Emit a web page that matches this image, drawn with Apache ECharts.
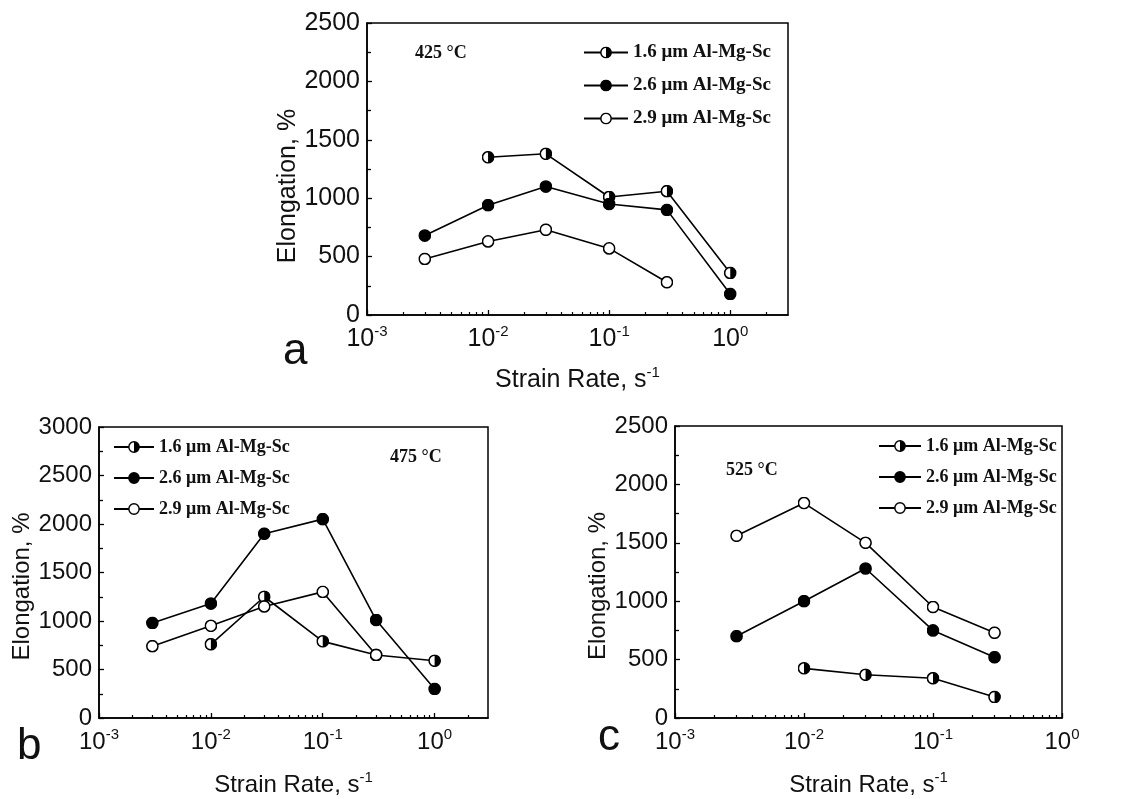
<!DOCTYPE html>
<html>
<head>
<meta charset="utf-8">
<title>Elongation vs strain rate</title>
<script src="https://cdn.jsdelivr.net/npm/echarts@6/dist/echarts.min.js"></script>
<style>
  html, body { margin: 0; background: #fff; }
  #chart { width: 1122px; height: 799px; }
</style>
</head>
<body>
<div id="chart"></div>
<script>
/* eslint-disable */

// ---- data ----
const seriesNames = ['1.6 μm Al-Mg-Sc', '2.6 μm Al-Mg-Sc', '2.9 μm Al-Mg-Sc'];
const temps = ['425 °C', '475 °C', '525 °C'];
const panelLetters = ['a', 'b', 'c'];

// panel a, 425 C
const a16 = [[0.01, 1350], [0.03, 1380], [0.1, 1010], [0.3, 1060], [1, 360]];
const a26 = [[0.003, 680], [0.01, 940], [0.03, 1100], [0.1, 950], [0.3, 900], [1, 180]];
const a29 = [[0.003, 480], [0.01, 630], [0.03, 730], [0.1, 570], [0.3, 280]];

// panel b, 475 C
const b16 = [[0.01, 760], [0.03, 1250], [0.1, 790], [0.3, 650], [1, 590]];
const b26 = [[0.003, 980], [0.01, 1180], [0.03, 1900], [0.1, 2050], [0.3, 1010], [1, 300]];
const b29 = [[0.003, 740], [0.01, 950], [0.03, 1150], [0.1, 1300], [0.3, 650]];

// panel c, 525 C
const c16 = [[0.01, 425], [0.03, 370], [0.1, 340], [0.3, 180]];
const c26 = [[0.003, 700], [0.01, 1000], [0.03, 1280], [0.1, 750], [0.3, 520]];
const c29 = [[0.003, 1560], [0.01, 1840], [0.03, 1500], [0.1, 950], [0.3, 730]];

// axis ranges and ticks
const xMax = [3, 3, 1];
const yMax = [2500, 3000, 2500];
const yStep = 500;
const decades = [0.001, 0.01, 0.1, 1];
const minorSteps = [2, 3, 4, 5, 6, 7, 8, 9];

const panelData = [[a16, a26, a29], [b16, b26, b29], [c16, c26, c29]];

// ---- markers ----
function svgSymbol(body) {
    let s = "<svg xmlns='http://www.w3.org/2000/svg' width='40' height='40' viewBox='0 0 20 20'>" + body + "</svg>";
    return 'image://data:image/svg+xml;charset=utf-8,' + encodeURIComponent(s);
}
const ring = "<circle cx='10' cy='10' r='8.6' fill='#fff' stroke='#000' stroke-width='2.4'/>";
const symbols = [
    svgSymbol(ring + "<path d='M10 1.4 A8.6 8.6 0 0 1 10 18.6 Z' fill='#000'/>"),
    svgSymbol("<circle cx='10' cy='10' r='8.6' fill='#000' stroke='#000' stroke-width='2.4'/>"),
    svgSymbol(ring)
];

const grids = [
    { left: 367, top: 23, width: 421, height: 292 },
    { left: 99, top: 427, width: 389, height: 291 },
    { left: 675, top: 426, width: 387, height: 292 }
];
const tickFont = [25, 24, 24];
const serifFont = 'Liberation Serif, Times New Roman, serif';
const sansFont = 'Liberation Sans, Arial, sans-serif';

let minorTicks = [];
decades.forEach(d => minorSteps.forEach(m => minorTicks.push(+(d * m).toPrecision(3))));

let xAxes = [], yAxes = [], series = [], legends = [], titles = [];

grids.forEach((g, i) => {
    let fs = tickFont[i];
    xAxes.push({
        type: 'log', logBase: 10, gridIndex: i, position: 'bottom',
        min: 0.001, max: xMax[i],
        name: '{n|Strain Rate, s}{e|-1}',
        nameLocation: 'middle', nameGap: i === 0 ? 50 : 52,
        nameTextStyle: {
            rich: {
                n: { fontFamily: sansFont, fontSize: fs, color: '#111', lineHeight: 30 },
                e: { fontFamily: sansFont, fontSize: 15, color: '#111', verticalAlign: 'top', lineHeight: 15 }
            }
        },
        axisLine: { show: true, lineStyle: { color: '#000', width: 1.5 } },
        axisTick: { show: true, inside: true, length: 5, customValues: decades, lineStyle: { color: '#000', width: 1.3 } },
        axisLabel: {
            customValues: decades, margin: 9,
            formatter: v => '{b|10}{e|' + Math.round(Math.log10(v)) + '}',
            rich: {
                b: { fontFamily: sansFont, fontSize: fs, color: '#111', lineHeight: 30 },
                e: { fontFamily: sansFont, fontSize: 15, color: '#111', verticalAlign: 'top', lineHeight: 15 }
            }
        },
        splitLine: { show: false }
    });
    yAxes.push({
        type: 'value', gridIndex: i, min: 0, max: yMax[i], interval: yStep,
        name: 'Elongation, %', nameLocation: 'middle', nameGap: i === 0 ? 63 : 57, nameRotate: 90,
        nameTextStyle: { fontFamily: sansFont, fontSize: fs, color: '#111', padding: [0, i === 0 ? 34 : 28, 0, 0] },
        axisLine: { show: true, lineStyle: { color: '#000', width: 1.5 } },
        axisTick: { show: true, inside: true, length: 5, lineStyle: { color: '#000', width: 1.3 } },
        minorTick: { show: true, splitNumber: 2, length: 4, lineStyle: { color: '#000', width: 1.3 } },
        axisLabel: { fontFamily: sansFont, fontSize: fs, color: '#111', margin: 7, formatter: v => String(v) },
        splitLine: { show: false }
    });

    panelData[i].forEach((d, k) => {
        series.push({
            name: seriesNames[k], type: 'line', xAxisIndex: i, yAxisIndex: i,
            data: d, symbol: symbols[k], symbolSize: 13,
            lineStyle: { color: '#000', width: 1.6 },
            itemStyle: { color: '#000' },
            emphasis: { disabled: true }
        });
    });
});

// minor log ticks, one extra axis per grid
grids.forEach((g, i) => {
    xAxes.push({
        type: 'log', logBase: 10, gridIndex: i, position: 'bottom',
        min: 0.001, max: xMax[i],
        axisLine: { show: false },
        axisLabel: { show: false },
        axisTick: { show: true, inside: true, length: 3, customValues: minorTicks.filter(v => v < xMax[i]), lineStyle: { color: '#000', width: 1.2 } },
        splitLine: { show: false }
    });
});

const legendPos = [
    { left: 578, top: 38, itemWidth: 44, itemGap: 14, fontSize: 19 },
    { left: 108, top: 433, itemWidth: 40, itemGap: 13, fontSize: 18 },
    { left: 873, top: 432, itemWidth: 42, itemGap: 13, fontSize: 18 }
];
legendPos.forEach(p => {
    legends.push({
        orient: 'vertical', left: p.left, top: p.top,
        itemWidth: p.itemWidth, itemHeight: 15, itemGap: p.itemGap,
        selectedMode: false, data: seriesNames,
        textStyle: { fontFamily: serifFont, fontWeight: 'bold', fontSize: p.fontSize, color: '#111' }
    });
});

const tempPos = [{ left: 415, top: 44 }, { left: 390, top: 448 }, { left: 726, top: 461 }];
tempPos.forEach((p, i) => {
    titles.push({
        text: temps[i], left: p.left, top: p.top, padding: 0,
        textStyle: { fontFamily: serifFont, fontWeight: 'bold', fontSize: 18, color: '#111' }
    });
});
const letterPos = [{ left: 283, top: 330 }, { left: 17, top: 725 }, { left: 598, top: 716 }];
letterPos.forEach((p, i) => {
    titles.push({
        text: panelLetters[i], left: p.left, top: p.top, padding: 0,
        textStyle: { fontFamily: sansFont, fontWeight: 'normal', fontSize: 44, color: '#111' }
    });
});

const myChart = echarts.init(document.getElementById('chart'));
myChart.setOption({
    animation: false,
    backgroundColor: '#fff',
    title: titles,
    legend: legends,
    grid: grids.map(g => Object.assign({ show: true, borderColor: '#000', borderWidth: 1.5, backgroundColor: 'transparent' }, g)),
    xAxis: xAxes,
    yAxis: yAxes,
    series: series
});
</script>
</body>
</html>
